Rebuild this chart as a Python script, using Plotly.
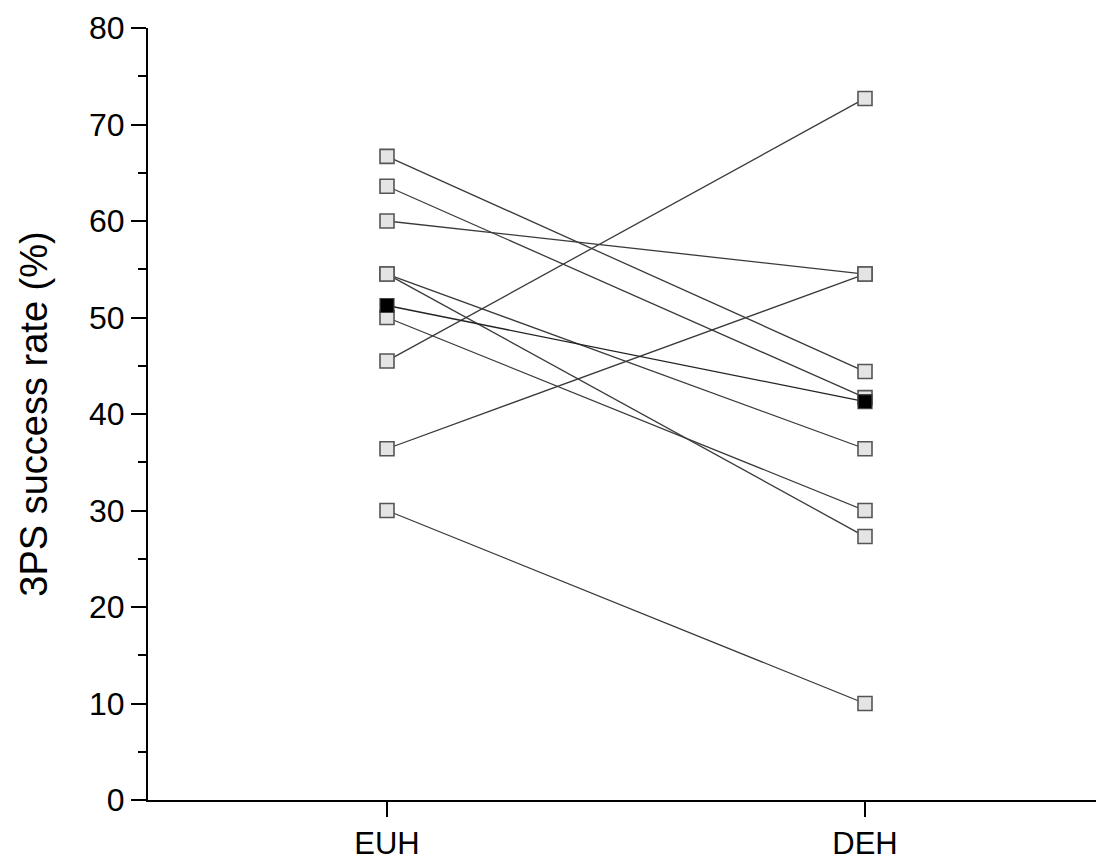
import plotly.graph_objects as go

conditions = ["EUH", "DEH"]
euh_rates = [66.7, 63.6, 60.0, 54.5, 54.5, 50.0, 45.5, 36.4, 30.0]
deh_rates = [44.4, 41.7, 54.5, 36.4, 27.3, 30.0, 72.7, 54.5, 10.0]
mean_rates = [sum(euh_rates) / len(euh_rates), sum(deh_rates) / len(deh_rates)]

fig = go.Figure()

for a, b in zip(euh_rates, deh_rates):
    fig.add_trace(go.Scatter(
        x=conditions, y=[a, b], mode="lines+markers",
        line=dict(color="#3a3a3a", width=1.3),
        marker=dict(symbol="square", size=14, color="#e4e4e4",
                    line=dict(color="#555555", width=1.6)),
        showlegend=False, hoverinfo="y"))

fig.add_trace(go.Scatter(
    x=conditions, y=mean_rates, mode="lines+markers",
    line=dict(color="#222222", width=1.3),
    marker=dict(symbol="square", size=14, color="#000000",
                line=dict(color="#444444", width=1.2)),
    showlegend=False, hoverinfo="y"))

fig.update_layout(
    width=1096, height=853,
    margin=dict(l=140, r=0, t=20, b=61),
    paper_bgcolor="white", plot_bgcolor="white",
    font=dict(family="Liberation Sans, Arial, sans-serif", color="black"),
)
fig.update_xaxes(
    type="category", range=[-0.5, 1.5],
    showline=True, linecolor="black", linewidth=2,
    ticks="outside", ticklen=15, tickwidth=2, tickcolor="black",
    tickfont=dict(size=31), showgrid=False, zeroline=False,
)
fig.update_yaxes(
    range=[0, 80], tickvals=[0, 10, 20, 30, 40, 50, 60, 70, 80],
    showline=True, linecolor="black", linewidth=2,
    ticks="outside", ticklen=15, tickwidth=2, tickcolor="black",
    minor=dict(ticks="outside", ticklen=8, tickwidth=2, tickcolor="black", dtick=5, showgrid=False),
    tickfont=dict(size=32), showgrid=False, zeroline=False,
    title=dict(text="3PS success rate (%)", font=dict(size=38), standoff=30),
)

fig.write_html("out.html")
